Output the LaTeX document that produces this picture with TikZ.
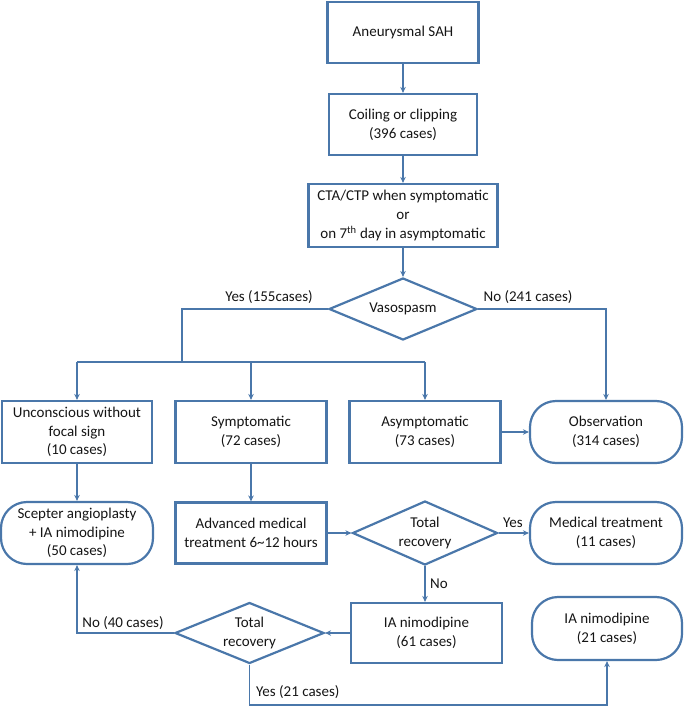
\documentclass[tikz,border=0pt]{standalone}
\usepackage{fontspec}
\setmainfont{Carlito}
\usetikzlibrary{shapes.geometric,arrows.meta}
\definecolor{flow}{HTML}{4A77AA}
\definecolor{txt}{HTML}{151515}
\tikzset{
  base/.style={draw=flow, line width=2.2pt, text=txt, align=center, inner sep=0pt,
    font=\fontsize{15}{18.8}\selectfont},
  sbox/.style={base, rectangle},
  rbox/.style={base, rectangle, rounded corners=26pt},
  dbox/.style={base, diamond},
  dtext/.style={text=txt, align=center, inner sep=0pt, font=\fontsize{15}{18.8}\selectfont},
  conn/.style={draw=flow, line width=1.7pt, -{Stealth[length=6pt,width=5.5pt]}},
  plain/.style={draw=flow, line width=1.7pt},
  lbl/.style={text=txt, inner sep=0pt, font=\fontsize{15}{18.8}\selectfont},
}
\begin{document}
\begin{tikzpicture}[x=1pt,y=-1pt]
\useasboundingbox (0,0) rectangle (685,707);

% top column
\node[sbox, minimum width=151pt, minimum height=61pt] (sah) at (403,32.5) {Aneurysmal SAH};
\node[sbox, minimum width=148pt, minimum height=61pt] (coil) at (403,124.5) {Coiling or clipping\\(396 cases)};
\node[sbox, minimum width=189pt, minimum height=63pt] (cta) at (403,215.5) {CTA/CTP when symptomatic\\or\\on 7\textsuperscript{th} day in asymptomatic};
\node[dbox, minimum width=148pt, minimum height=62pt, label={[dtext]center:Vasospasm}] (vaso) at (403,309) {};

% row 4
\node[sbox, minimum width=150pt, minimum height=62pt] (unc) at (77,432) {Unconscious without\\focal sign\\(10 cases)};
\node[sbox, minimum width=151pt, minimum height=62pt] (sym) at (251,432) {Symptomatic\\(72 cases)};
\node[sbox, minimum width=151pt, minimum height=62pt] (asym) at (425,432) {Asymptomatic\\(73 cases)};
\node[rbox, minimum width=152pt, minimum height=62pt] (obs) at (606,432) {Observation\\(314 cases)};

% row 5
\node[rbox, minimum width=152pt, minimum height=62pt] (scep) at (77,533) {Scepter angioplasty\\+ IA nimodipine\\(50 cases)};
\node[sbox, minimum width=151pt, minimum height=61pt] (adv) at (251,533) {Advanced medical\\treatment 6\char"007E 12 hours};
\node[dbox, minimum width=145pt, minimum height=64pt, label={[dtext]center:Total\\recovery}] (tr1) at (425,533) {};
\node[rbox, minimum width=152pt, minimum height=62pt] (med) at (606,533) {Medical treatment\\(11 cases)};

% row 6
\node[sbox, minimum width=151pt, minimum height=60pt] (ia61) at (426.5,633) {IA nimodipine\\(61 cases)};
\node[dbox, minimum width=149pt, minimum height=61pt, label={[dtext]center:Total\\recovery}] (tr2) at (249.5,633) {};
\node[rbox, minimum width=150pt, minimum height=63pt] (ia21) at (607,628.5) {IA nimodipine\\(21 cases)};

% helper coordinates
\coordinate (yb) at (182,362);
\coordinate (bl) at (77,362);
\coordinate (br) at (425,362);
\coordinate (bot) at (400,705);

% connectors
\draw[conn] (sah) -- (coil);
\draw[conn] (coil) -- (cta);
\draw[conn] (cta) -- (vaso);
\draw[plain] (vaso.west) -| (yb);
\draw[plain] (bl) -- (br);
\draw[conn] (bl) -- (unc.north);
\draw[conn] (sym.north |- bl) -- (sym.north);
\draw[conn] (br) -- (asym.north);
\draw[conn] (vaso.east) -| (obs.north);
\draw[conn] (asym) -- (obs);
\draw[conn] (unc) -- (scep);
\draw[conn] (sym) -- (adv);
\draw[conn] (adv) -- (tr1);
\draw[conn] (tr1) -- (med);
\draw[conn] (tr1.south) -- (tr1.south |- ia61.north);
\draw[conn] (ia61) -- (tr2);
\draw[conn] (tr2.west) -| (scep.south);
\draw[conn] (tr2.south) |- (bot) -| (ia21.south);

% labels
\node[lbl] (lyes1) at (269,297) {Yes (155cases)};
\node[lbl] (lno1) at (528,297) {No (241 cases)};
\node[lbl] (lyes2) at (513,523) {Yes};
\node[lbl] (lno2) at (439,584) {No};
\node[lbl] (lno3) at (123,623) {No (40 cases)};
\node[lbl, anchor=west] (lyes3) at (256,692) {Yes (21 cases)};
\end{tikzpicture}
\end{document}
